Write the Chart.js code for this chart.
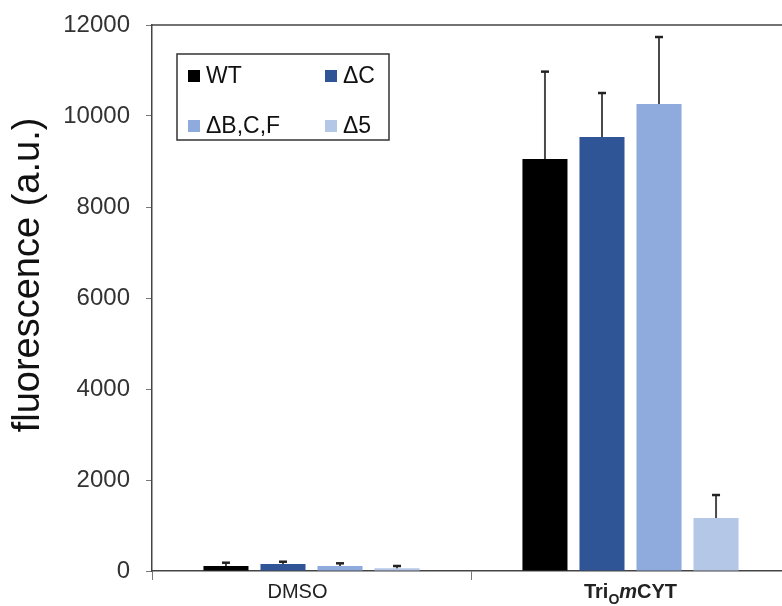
<!DOCTYPE html>
<html>
<head>
<meta charset="utf-8">
<script src="https://cdn.jsdelivr.net/npm/chart.js@4"></script>
<style>
  html, body { margin: 0; padding: 0; background: #fff; overflow: hidden; }
  #wrap { width: 800px; height: 606px; }
</style>
</head>
<body>
<div id="wrap"><canvas id="chart" width="800" height="606"></canvas></div>
<script>
// データ
const categories = ['DMSO', 'TriOmCYT'];
const seriesNames = ['WT', 'ΔC', 'ΔB,C,F', 'Δ5'];
const seriesColors = ['#000000', '#2F5597', '#8FAADC', '#B4C7E7'];
const wtValues = [110, 9055];
const dcValues = [154, 9538];
const dbcfValues = [110, 10264];
const d5Values = [59, 1165];
const wtErr = [72, 1920];
const dcErr = [50, 967];
const dbcfErr = [59, 1472];
const d5Err = [51, 505];
const yTicks = [0, 2000, 4000, 6000, 8000, 10000, 12000];

const allValues = [wtValues, dcValues, dbcfValues, d5Values];
const allErrors = [wtErr, dcErr, dbcfErr, d5Err];

// エラーバー（上側のみ）
const errorBarPlugin = {
  id: 'errorBars',
  afterDatasetsDraw(chart) {
    const ctx = chart.ctx;
    const y = chart.scales.y;
    ctx.save();
    chart.data.datasets.forEach((ds, di) => {
      const meta = chart.getDatasetMeta(di);
      meta.data.forEach((bar, i) => {
        const top = y.getPixelForValue(ds.data[i] + allErrors[di][i]);
        ctx.strokeStyle = '#4a4a4a';
        ctx.lineWidth = 2;
        ctx.beginPath();
        ctx.moveTo(bar.x, bar.y);
        ctx.lineTo(bar.x, top);
        ctx.stroke();
        ctx.strokeStyle = '#222';
        ctx.lineWidth = 2.5;
        ctx.beginPath();
        ctx.moveTo(bar.x - 4, top);
        ctx.lineTo(bar.x + 4, top);
        ctx.stroke();
      });
    });
    ctx.restore();
  }
};

// 枠線・凡例・ラベル
const decorPlugin = {
  id: 'decor',
  afterDraw(chart) {
    const ctx = chart.ctx;
    const area = chart.chartArea;
    const x = chart.scales.x;
    ctx.save();

    // 上の枠線
    ctx.strokeStyle = '#444';
    ctx.lineWidth = 1.5;
    ctx.beginPath();
    ctx.moveTo(area.left, area.top);
    ctx.lineTo(area.right, area.top);
    ctx.stroke();

    // 縦軸タイトル
    ctx.fillStyle = '#111';
    ctx.font = '38px Arial, "Liberation Sans", sans-serif';
    ctx.textAlign = 'center';
    ctx.textBaseline = 'middle';
    ctx.translate(29, 275);
    ctx.rotate(-Math.PI / 2);
    ctx.fillText('fluorescence (a.u.)', 0, 0);
    ctx.setTransform(1, 0, 0, 1, 0, 0);

    // 横軸ラベル
    const ly = 598;
    ctx.textBaseline = 'alphabetic';
    ctx.fillStyle = '#222';
    ctx.font = '20px Arial, "Liberation Sans", sans-serif';
    ctx.textAlign = 'center';
    ctx.fillText(categories[0], x.getPixelForValue(0) - 14, ly);

    // Tri_O mCYT
    const parts = [
      { t: 'Tri', f: 'bold 20px Arial, "Liberation Sans", sans-serif', dy: 0 },
      { t: 'O', f: 'bold 14px Arial, "Liberation Sans", sans-serif', dy: 6 },
      { t: 'm', f: 'italic bold 20px Arial, "Liberation Sans", sans-serif', dy: 0 },
      { t: 'CYT', f: 'bold 20px Arial, "Liberation Sans", sans-serif', dy: 0 }
    ];
    let total = 0;
    parts.forEach(p => { ctx.font = p.f; p.w = ctx.measureText(p.t).width; total += p.w; });
    let px = x.getPixelForValue(1) - total / 2;
    ctx.textAlign = 'left';
    parts.forEach(p => {
      ctx.font = p.f;
      ctx.fillText(p.t, px, ly + p.dy);
      px += p.w;
    });

    // 凡例
    const bx = area.left + 25, by = area.top + 29, bw = 212, bh = 86;
    ctx.strokeStyle = '#333';
    ctx.lineWidth = 1.5;
    ctx.strokeRect(bx, by, bw, bh);
    ctx.font = '23px Arial, "Liberation Sans", sans-serif';
    ctx.textBaseline = 'middle';
    const cols = [bx + 11, bx + 148];
    const rows = [by + 22, by + 72];
    seriesNames.forEach((name, i) => {
      const cx = cols[i % 2], cy = rows[Math.floor(i / 2)];
      ctx.fillStyle = seriesColors[i];
      ctx.fillRect(cx, cy - 6, 12, 12);
      ctx.fillStyle = '#111';
      ctx.fillText(name, cx + 18, cy + 1);
    });

    ctx.restore();
  }
};

const ctx = document.getElementById('chart').getContext('2d');
new Chart(ctx, {
  type: 'bar',
  data: {
    labels: categories,
    datasets: seriesNames.map((name, i) => ({
      label: name,
      data: allValues[i],
      backgroundColor: seriesColors[i],
      borderWidth: 0,
      categoryPercentage: 0.715,
      barPercentage: 0.79
    }))
  },
  options: {
    responsive: false,
    animation: false,
    devicePixelRatio: 1,
    layout: { padding: { top: 25, right: 10, left: 0, bottom: 0 } },
    plugins: {
      legend: { display: false },
      tooltip: { enabled: false }
    },
    scales: {
      x: {
        grid: { display: true, drawOnChartArea: false, tickLength: 9, color: '#777', offset: true },
        border: { color: '#444', width: 1.5 },
        ticks: { display: false },
        afterFit(scale) { scale.height = 35; scale.paddingLeft = 0; scale.paddingRight = 0; }
      },
      y: {
        min: 0,
        max: 12000,
        afterBuildTicks(scale) { scale.ticks = yTicks.map(v => ({ value: v })); },
        grid: { display: true, drawOnChartArea: false, tickLength: 6, color: '#777' },
        border: { color: '#444', width: 1.5 },
        ticks: {
          padding: 16,
          color: '#333',
          font: { family: 'Arial, "Liberation Sans", sans-serif', size: 24 },
          callback: v => String(v)
        },
        afterFit(scale) { scale.width = 152; scale.paddingTop = 0; scale.paddingBottom = 0; }
      }
    }
  },
  plugins: [errorBarPlugin, decorPlugin]
});
</script>
</body>
</html>
